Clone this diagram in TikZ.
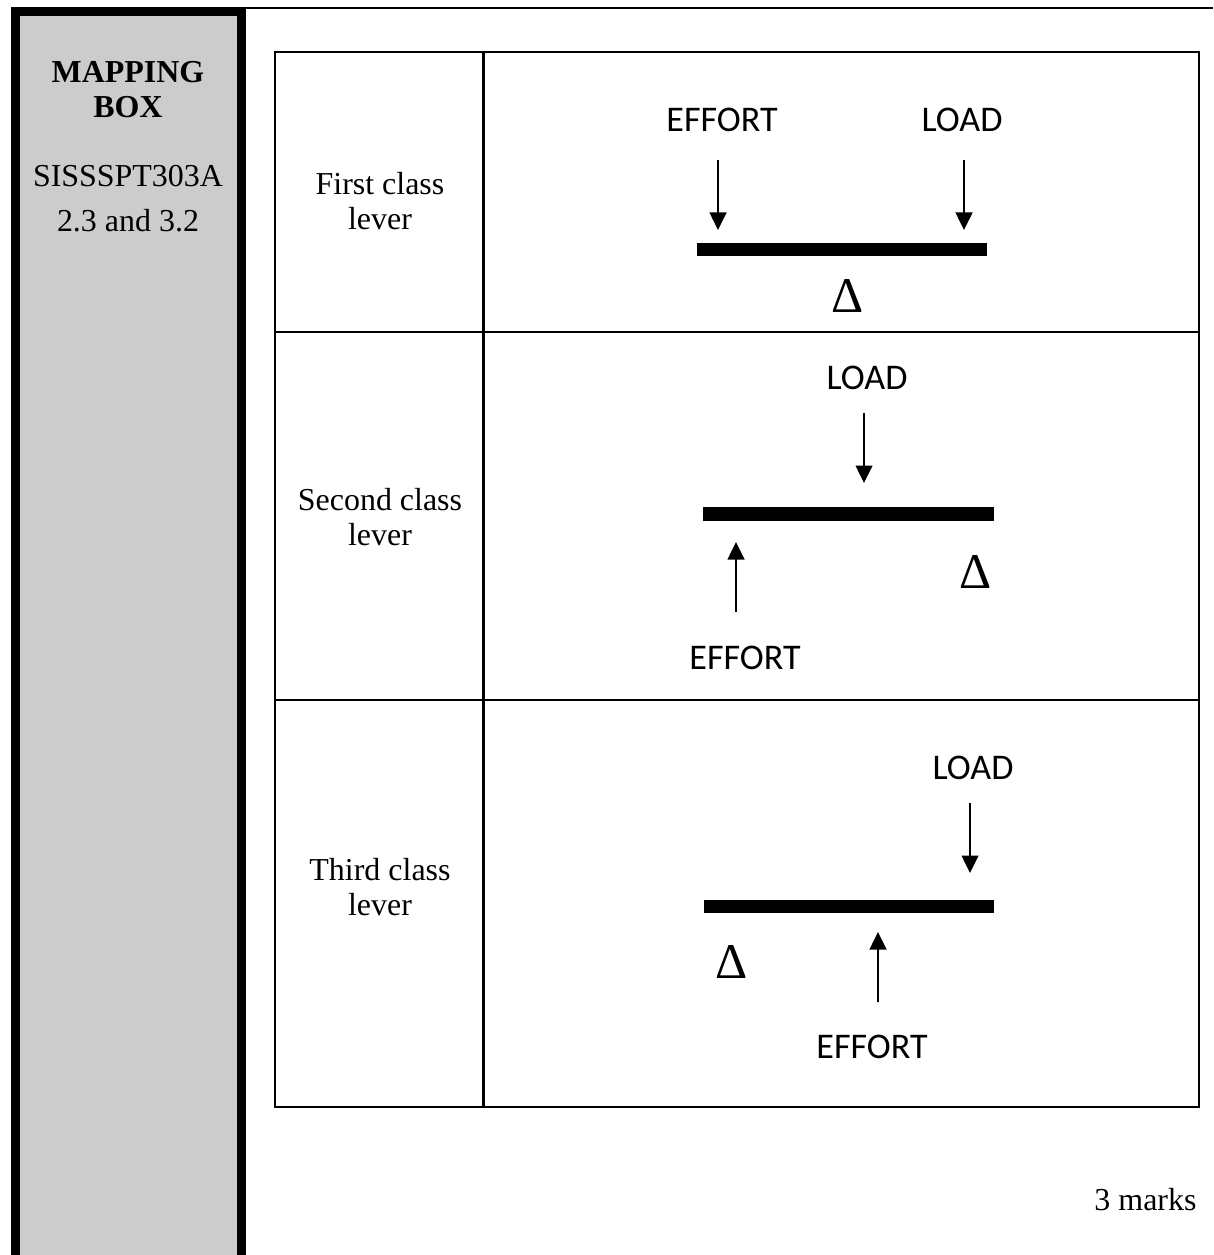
\documentclass[tikz,border=0pt]{standalone}
\usepackage{fontspec}
\setmainfont{Liberation Serif}
\newfontfamily\tagfont{Carlito}
\usepackage{tikz}
\usetikzlibrary{arrows.meta}
\definecolor{mapgray}{HTML}{CCCCCC}

\begin{document}
\begin{tikzpicture}[x=0.36pt, y=-0.36pt, font=\fontsize{11.5}{12.6}\selectfont,
    rule/.style={line width=0.8pt},
    panel/.style={draw, fill=mapgray, line width=3.24pt},
    beam/.style={line width=4.7pt},
    force/.style={-{Triangle[length=6.3pt,width=6pt]}, line width=0.75pt},
    tag/.style={font=\tagfont\fontsize{13}{15}\selectfont},
    pivot/.style={font=\fontsize{18}{20}\selectfont}]
    \useasboundingbox (0,0) rectangle (1213,1255);
    \clip (0,0) rectangle (1213,1255);
    \draw[panel] (15.5,11.5) rectangle (241.5,1300);
    \draw[rule] (246,8) -- (1213,8);
    \node[align=center] (map) at (128,90) {\textbf{MAPPING}\\\textbf{BOX}};
    \node (unit) at (128,176) {SISSSPT303A};
    \node (elem) at (128,221) {2.3 and 3.2};
    \draw[rule] (275,52) rectangle (1199,1107);
    \draw[rule] (483.5,52) -- (483.5,1107);
    \draw[rule] (275,332) -- (1199,332);
    \draw[rule] (275,700) -- (1199,700);
    \node[align=center] (first) at (380,201) {First class\\lever};
    \node[align=center] (second) at (380,517) {Second class\\lever};
    \node[align=center] (third) at (380,887) {Third class\\lever};
    \node[tag] (E1) at (722,120) {EFFORT};
    \node[tag] (L1) at (962,120) {LOAD};
    \node[pivot] (P1) at (848,296) {Δ};
    \node[tag] (L2) at (867,378) {LOAD};
    \node[pivot] (P2) at (976,572) {Δ};
    \node[tag] (E2) at (745,658) {EFFORT};
    \node[tag] (L3) at (973,768) {LOAD};
    \node[pivot] (P3) at (732,962) {Δ};
    \node[tag] (E3) at (872,1047) {EFFORT};
    \foreach\n/\xa/\xb/\y in {1/697/987/249.5, 2/703/994/514, 3/704/994/906.5}{
      \coordinate (B\n a) at (\xa,\y);
      \coordinate (B\n b) at (\xb,\y);
      \draw[beam] (B\n a) -- (B\n b);
    }
    \foreach\n/\x/\ya/\yb in {1/718/160/230, 2/964/160/230, 3/864/413/483,
                              4/736/612/542, 5/970/803/873, 6/878/1002/932}{
      \coordinate (F\n a) at (\x,\ya);
      \coordinate (F\n b) at (\x,\yb);
      \draw[force] (F\n a) -- (F\n b);
    }
    \node[anchor=east, inner sep=0pt] (marks) at (1197,1200) {3 marks};
  \end{tikzpicture}
\end{document}
